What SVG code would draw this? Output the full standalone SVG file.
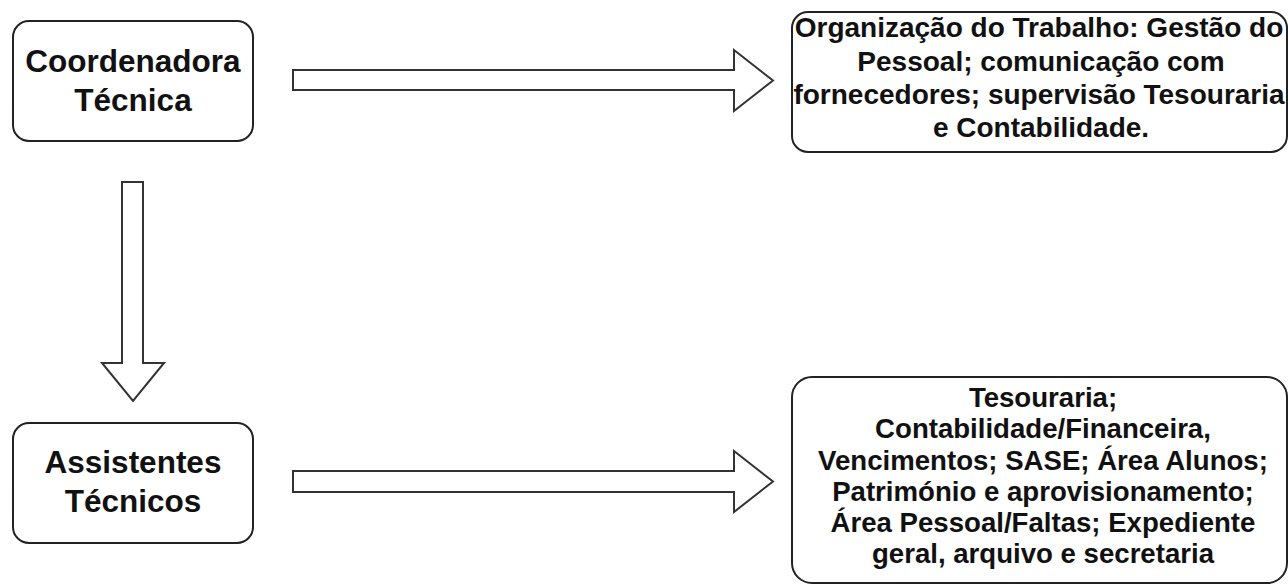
<svg xmlns="http://www.w3.org/2000/svg" width="1288" height="584" viewBox="0 0 1288 584">
<style>
.box{fill:#fff;stroke:#222;stroke-width:2}
.arrow{fill:#fff;stroke:#333;stroke-width:2;stroke-linejoin:miter}
.tl{font-family:"Liberation Sans",Arial,sans-serif;font-weight:bold;font-size:31.5px;fill:#111;text-anchor:middle}
.tr{font-family:"Liberation Sans",Arial,sans-serif;font-weight:bold;font-size:28px;fill:#111;text-anchor:middle}
.tb{font-family:"Liberation Sans",Arial,sans-serif;font-weight:bold;font-size:27.6px;fill:#111;text-anchor:middle}
</style>
<rect width="1288" height="584" fill="#fff"/>
<g id="connectors">
<polygon class="arrow" points="293,70 734,70 734,50 773,80.5 734,111 734,90 293,90"/>
<polygon class="arrow" points="293,471 734,471 734,451 773,481.5 734,512 734,492 293,492"/>
<polygon class="arrow" points="122,182 143,182 143,363 164,363 133,401 102,363 122,363"/>
</g>
<g id="coordenadora">
<rect class="box" x="13" y="21" width="240" height="120" rx="16"/>
<text class="tl" x="133" y="72">Coordenadora</text>
<text class="tl" x="133" y="111">Técnica</text>
</g>
<g id="assistentes">
<rect class="box" x="13" y="423" width="240" height="120" rx="16"/>
<text class="tl" x="133" y="473">Assistentes</text>
<text class="tl" x="133" y="512">Técnicos</text>
</g>
<g id="organizacao">
<rect class="box" x="792" y="12" width="495" height="140" rx="16"/>
<text class="tr" x="1039" y="37">Organização do Trabalho: Gestão do</text>
<text class="tr" x="1041" y="71">Pessoal; comunicação com</text>
<text class="tr" x="1039" y="104">fornecedores; supervisão Tesouraria</text>
<text class="tr" x="1041" y="137">e Contabilidade.</text>
</g>
<g id="tesouraria">
<rect class="box" x="792" y="377" width="495" height="206" rx="20"/>
<text class="tb" x="1043" y="407">Tesouraria;</text>
<text class="tb" x="1043" y="438">Contabilidade/Financeira,</text>
<text class="tb" x="1043" y="470">Vencimentos; SASE; Área Alunos;</text>
<text class="tb" x="1043" y="501">Património e aprovisionamento;</text>
<text class="tb" x="1043" y="532">Área Pessoal/Faltas; Expediente</text>
<text class="tb" x="1043" y="563">geral, arquivo e secretaria</text>
</g>
</svg>
